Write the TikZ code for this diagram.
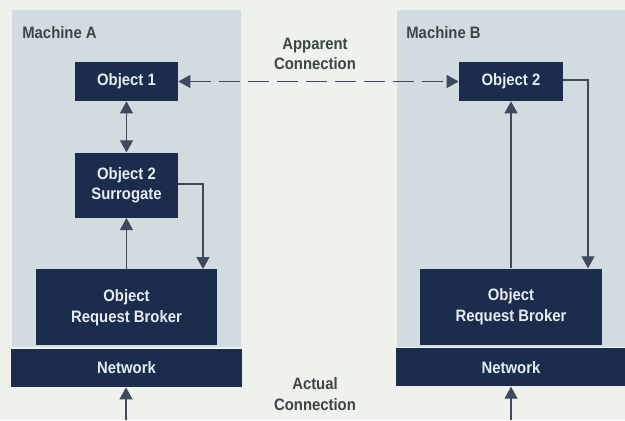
\documentclass[tikz,border=0pt]{standalone}
\usepackage{fontspec}
\setmainfont{Liberation Sans}[FakeStretch=0.9]
\usetikzlibrary{positioning,arrows.meta}

\definecolor{paper}{HTML}{EEF1EC}
\definecolor{machine}{HTML}{D2DBDF}
\definecolor{navy}{HTML}{1B2C4C}
\definecolor{boxtext}{HTML}{E6EDF2}
\definecolor{labeltext}{HTML}{3A4745}
\definecolor{wire}{HTML}{3C4A5C}

\begin{document}
\begin{tikzpicture}[
  x=0.02cm, y=-0.02cm,
  node distance=1.02cm,
  box/.style={fill=navy, text=boxtext, inner sep=0pt, align=center,
    font=\bfseries\fontsize{9.4}{11.8}\selectfont},
  label/.style={text=labeltext, align=center, inner sep=0pt,
    font=\bfseries\fontsize{9.4}{11.8}\selectfont},
  arrow/.style={-{Triangle[length=2.4mm,width=2.6mm]}, wire, line width=0.6pt},
  twoway/.style={{Triangle[length=2.4mm,width=2.6mm]}-{Triangle[length=2.4mm,width=2.6mm]}, wire, line width=0.6pt}
]
  \useasboundingbox (0,0) rectangle (625,420);
  \fill[paper] (0,0) rectangle (625,420);
  \fill[machine] (12,10) rectangle (241,347);
  \fill[machine] (397,10) rectangle (625,347);

  \node[label, anchor=west] (macha) at (22,33) {Machine A};
  \node[label, anchor=west] (machb) at (406,33) {Machine B};

  % machine A
  \node[box, minimum width=2.06cm, minimum height=0.78cm] (obja) at (126.5,81.5) {Object 1};
  \node[box, minimum width=2.06cm, minimum height=1.3cm, below=of obja] (surr) {Object 2\\Surrogate};
  \node[box, minimum width=3.62cm, minimum height=1.52cm, below=of surr] (orba) {Object\\Request Broker};
  \node[box, minimum width=4.64cm, minimum height=0.76cm, below=0.06cm of orba] (neta) {Network};

  % machine B
  \node[box, minimum width=2.08cm, minimum height=0.78cm] (objb) at (511,81.5) {Object 2};
  \node[box, minimum width=3.64cm, minimum height=1.52cm, below=3.34cm of objb] (orbb) {Object\\Request Broker};
  \node[box, minimum width=4.6cm, minimum height=0.76cm, below=0.06cm of orbb] (netb) {Network};

  \node[label] (apparent) at (315,54) {Apparent\\Connection};
  \node[label] (actual) at (315,394) {Actual\\Connection};

  \coordinate (ina) at (126,420);
  \coordinate (inb) at (511,420);

  \draw[twoway] (obja) -- (surr);
  \draw[arrow] (orba.north -| surr) -- (surr.south);
  \draw[arrow] (surr.east |- 0,184) -| (203,0 |- orba.north);
  \draw[arrow] (ina) -- (ina |- neta.south);

  \draw[twoway, dash pattern=on 0.42cm off 0.16cm] (obja.east) -- (objb.west);

  \draw[arrow] (orbb.north -| objb) -- (objb.south);
  \draw[arrow] (objb.east |- 0,80) -| (588,0 |- orbb.north);
  \draw[arrow] (inb) -- (inb |- netb.south);
\end{tikzpicture}
\end{document}
